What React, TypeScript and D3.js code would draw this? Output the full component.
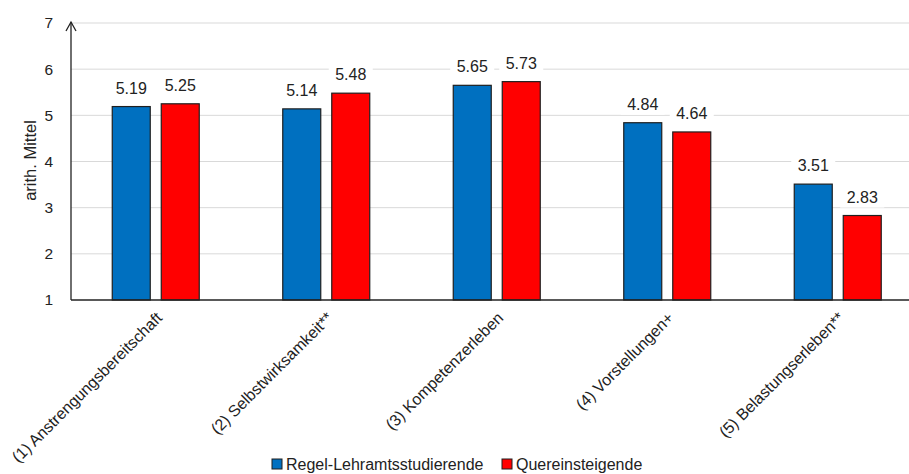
import React from "react";
import * as d3 from "d3";

const categories = [
  "(1) Anstrengungsbereitschaft",
  "(2) Selbstwirksamkeit**",
  "(3) Kompetenzerleben",
  "(4) Vorstellungen+",
  "(5) Belastungserleben**",
];
const seriesNames = ["Regel-Lehramtsstudierende", "Quereinsteigende"];
const regelValues = [5.19, 5.14, 5.65, 4.84, 3.51];
const quereinValues = [5.25, 5.48, 5.73, 4.64, 2.83];
const yTicks = [1, 2, 3, 4, 5, 6, 7];
const colors = ["#0070C0", "#FF0000"];

const W = 909;
const H = 474;
const FONT = "'Liberation Sans', Arial, sans-serif";

export default function App() {
  const x0 = d3.scaleBand<string>().domain(categories).range([71, 923.5]).padding(0);
  const x1 = d3.scaleBand<string>().domain(seriesNames).range([-44, 43]).paddingInner(11 / 49);
  const y = d3.scaleLinear().domain([1, 7]).range([300, 23]);
  const seriesValues = [regelValues, quereinValues];
  const axisX = 71;

  return (
    <svg width={W} height={H} style={{ position: "absolute", left: 0, top: 0, background: "#fff" }} fontFamily={FONT}>
      <rect x={0} y={0} width={W} height={H} fill="#fff" />
      {yTicks.slice(1).map((t) => (
        <line key={t} x1={axisX} x2={W} y1={y(t)} y2={y(t)} stroke="#d9d9d9" strokeWidth={1} />
      ))}
      {yTicks.map((t) => (
        <text key={t} x={53} y={y(t)} dy="0.35em" textAnchor="end" fontSize={15.5} fill="#222">
          {t}
        </text>
      ))}
      <text
        transform={`translate(30, ${y(4) - 1}) rotate(-90)`}
        textAnchor="middle"
        dy="0.35em"
        fontSize={16.5}
        fill="#222"
      >
        arith. Mittel
      </text>
      {categories.map((c, i) => (
        <g key={c} transform={`translate(${x0(c)! + x0.bandwidth() / 2},0)`}>
          {seriesNames.map((s, j) => {
            const v = seriesValues[j][i];
            const bx = x1(s)!;
            const bw = x1.bandwidth();
            const label = v.toFixed(2);
            const ly = y(v) - 13;
            return (
              <g key={s}>
                <rect x={bx} y={y(v)} width={bw} height={y(1) - y(v)} fill={colors[j]} stroke="#1f1f1f" strokeWidth={1.2} />
                <rect x={bx + bw / 2 - 22} y={ly - 14} width={44} height={19} fill="#fff" />
                <text x={bx + bw / 2} y={ly} textAnchor="middle" fontSize={16} fill="#222">
                  {label}
                </text>
              </g>
            );
          })}
          <text
            transform={`translate(3, 315) rotate(-45)`}
            textAnchor="end"
            dy="0.35em"
            fontSize={16}
            fill="#222"
          >
            {c}
          </text>
        </g>
      ))}
      <line x1={axisX} x2={W} y1={y(1)} y2={y(1)} stroke="#222" strokeWidth={1.3} />
      <line x1={axisX} x2={axisX} y1={y(1)} y2={y(7) - 1} stroke="#222" strokeWidth={1.3} />
      <path d={`M${axisX - 5},${y(7) + 8} L${axisX},${y(7) - 1} L${axisX + 5},${y(7) + 8}`} fill="none" stroke="#222" strokeWidth={1.3} />
      {seriesNames.map((s, j) => {
        const lx = j === 0 ? 272 : 502;
        return (
          <g key={s}>
            <rect x={lx} y={459} width={10} height={10} fill={colors[j]} stroke="#1f1f1f" strokeWidth={1} />
            <text x={lx + 14} y={464} dy="0.35em" fontSize={16} fill="#222">
              {s}
            </text>
          </g>
        );
      })}
    </svg>
  );
}
